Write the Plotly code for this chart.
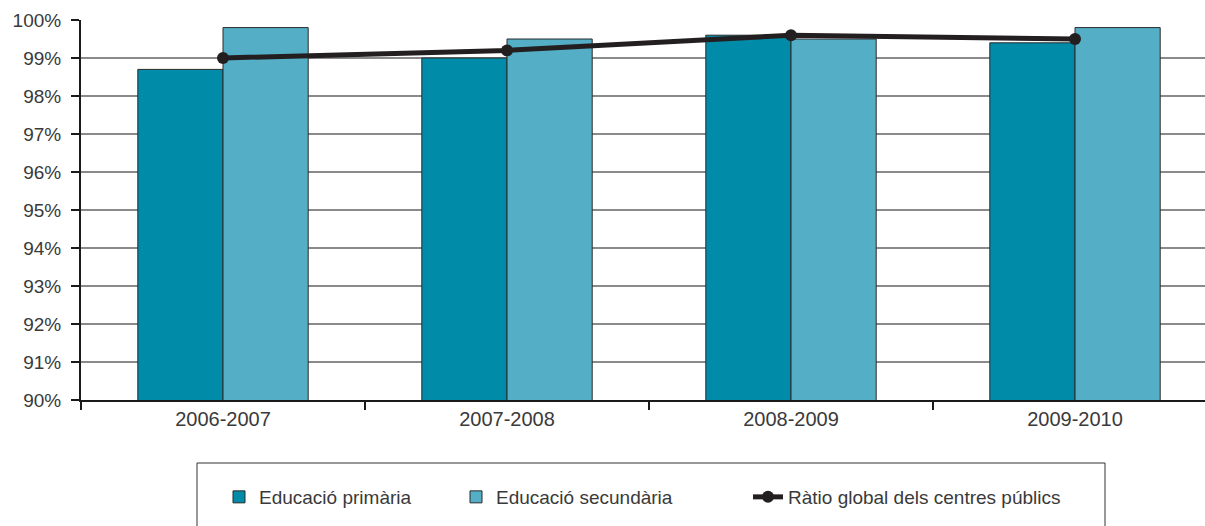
import plotly.graph_objects as go

categories = ["2006-2007", "2007-2008", "2008-2009", "2009-2010"]
primaria = [98.7, 99.0, 99.6, 99.4]
secundaria = [99.8, 99.5, 99.5, 99.8]
ratio_global = [99.0, 99.2, 99.6, 99.5]
y_ticks = [90, 91, 92, 93, 94, 95, 96, 97, 98, 99, 100]
y_tick_labels = ["90%", "91%", "92%", "93%", "94%", "95%", "96%", "97%", "98%", "99%", "100%"]

W, H = 1205, 526
L, R, T, B = 81, 0, 20, 126
pw, ph = W - L - R, H - T - B

def px_x(x):
    return (x - L) / pw

def px_y(y):
    return (H - B - y) / ph

font = "Liberation Sans, Arial, sans-serif"
txt = "#3a3a3a"

fig = go.Figure()
fig.add_trace(go.Bar(
    x=categories, y=primaria, name="Educació primària", legend="legend",
    marker=dict(color="#008ba8", line=dict(color="#2b2b2b", width=1)),
))
fig.add_trace(go.Bar(
    x=categories, y=secundaria, name="Educació secundària", legend="legend2",
    marker=dict(color="#53aec6", line=dict(color="#2b2b2b", width=1)),
))
fig.add_trace(go.Scatter(
    x=categories, y=ratio_global, name="Ràtio global dels centres públics",
    legend="legend3", mode="lines+markers",
    line=dict(color="#231f20", width=5),
    marker=dict(color="#231f20", size=12),
))

leg_common = dict(
    orientation="h", xanchor="left", yanchor="middle", y=px_y(497),
    bgcolor="rgba(0,0,0,0)", borderwidth=0,
    font=dict(family=font, size=19, color=txt),
)

fig.update_layout(
    width=W, height=H,
    margin=dict(l=L, r=R, t=T, b=B, pad=0),
    paper_bgcolor="white", plot_bgcolor="white",
    barmode="group", bargap=0.4, bargroupgap=0,
    font=dict(family=font, size=19, color=txt),
    showlegend=True,
    legend=dict(x=px_x(219), **leg_common),
    legend2=dict(x=px_x(456), **leg_common),
    legend3=dict(x=px_x(748), **leg_common),
    shapes=[dict(
        type="rect", xref="paper", yref="paper",
        x0=px_x(197), x1=px_x(1105), y0=px_y(463), y1=px_y(540),
        line=dict(color="#333333", width=1), fillcolor="rgba(0,0,0,0)",
    )],
)

fig.update_xaxes(
    type="category", range=[-0.5, -0.5 + pw / 284.0],
    showline=True, linecolor="#1a1a1a", linewidth=2,
    ticks="outside", tickson="boundaries", ticklen=8, tickwidth=2, tickcolor="#1a1a1a",
    showgrid=False, tickfont=dict(size=20, color=txt),
)
fig.update_yaxes(
    range=[90, 100], tickvals=y_ticks, ticktext=y_tick_labels,
    showline=True, linecolor="#1a1a1a", linewidth=2,
    ticks="outside", ticklen=8, tickwidth=2, tickcolor="#1a1a1a",
    ticklabelstandoff=6,
    showgrid=True, gridcolor="#8a8a8a", gridwidth=1.5,
    zeroline=False, tickfont=dict(size=19, color=txt),
)

fig.write_html(
    "out.html",
    config={"displayModeBar": False},
    post_script="document.body.style.margin='0';document.body.style.padding='0';document.body.style.overflow='hidden';",
)
